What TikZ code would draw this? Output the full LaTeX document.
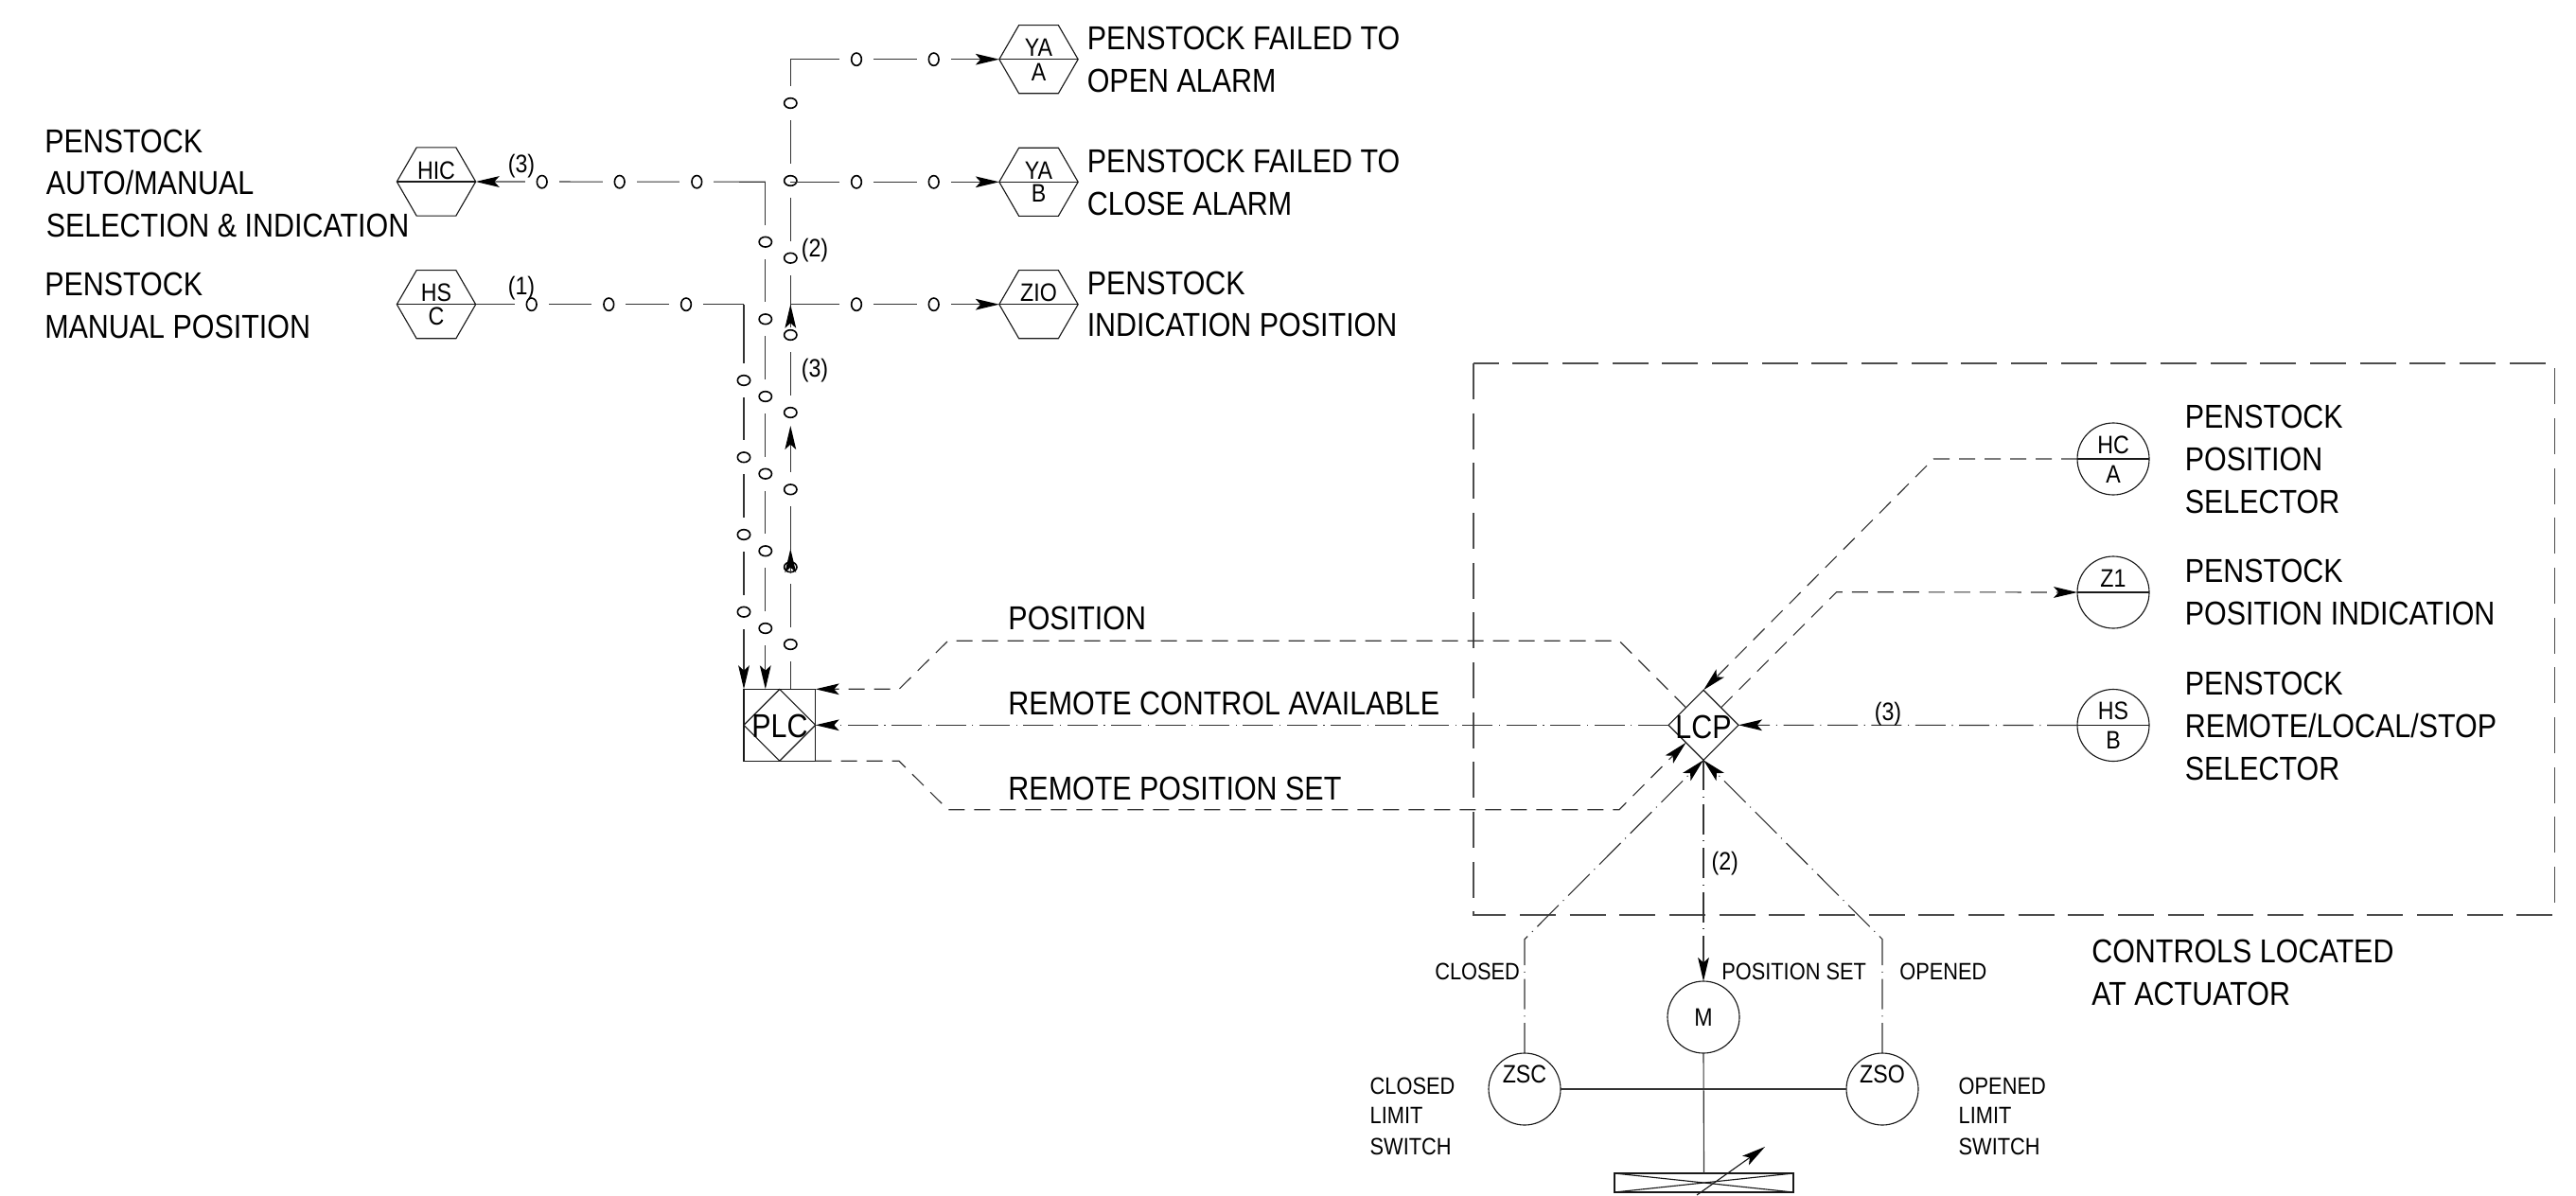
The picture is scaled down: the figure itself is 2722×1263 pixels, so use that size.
\documentclass[tikz,border=0pt]{standalone}
\usepackage{fontspec}
\setmainfont[FakeStretch=0.87]{Liberation Sans}
\usetikzlibrary{arrows.meta,shapes.geometric}
\tikzset{
  wire/.style={line width=0.85pt,draw=black!80,line join=miter},
  thinline/.style={line width=0.85pt,draw=black!90},
  dashp/.style={wire,dash pattern=on 12.75pt off 7.5pt},
  dashdotp/.style={wire,dash pattern=on 24pt off 5pt on 0.8pt off 5pt},
  encl/.style={line width=0.8pt,draw=black!70,dash pattern=on 28.5pt off 11pt},
  arr/.style={-{Stealth[length=18.75pt,width=8.8pt,inset=4pt,color=black]}},
  hexa/.style={regular polygon,regular polygon sides=6,minimum size=62.5pt,inner sep=0pt,outer sep=0pt,thinline,draw},
  inst/.style={circle,minimum size=57pt,inner sep=0pt,outer sep=0pt,thinline,draw},
  dia/.style={diamond,minimum width=#1,minimum height=#1,aspect=1,inner sep=0pt,outer sep=0pt,thinline,draw},
  gaph/.style={rectangle,fill=white,inner sep=0pt,outer sep=0pt,minimum width=27pt,minimum height=12pt,
    path picture={\draw[line width=1.2pt] (path picture bounding box.center) ellipse (4pt and 5pt);}},
  gapv/.style={rectangle,fill=white,inner sep=0pt,outer sep=0pt,minimum width=12pt,minimum height=27pt,
    path picture={\draw[line width=1.2pt] (path picture bounding box.center) ellipse (5pt and 4pt);}},
  big/.style={inner sep=0pt,font=\fontsize{26.25pt}{30pt}\selectfont,anchor=base west},
  bigc/.style={inner sep=0pt,font=\fontsize{26.25pt}{30pt}\selectfont,anchor=base},
  med/.style={inner sep=0pt,font=\fontsize{18.8pt}{24pt}\selectfont,anchor=base west},
  sml/.style={inner sep=0pt,font=\fontsize{20pt}{24pt}\selectfont,anchor=base},
}
\begin{document}
\begin{tikzpicture}[x=0.75pt,y=-0.75pt]
\useasboundingbox (0,0) rectangle (2722,1263);

% --- instruments
\node[hexa] (yaa) at (1097.5,62.7) {};
\node[hexa] (yab) at (1097.5,192.3) {};
\node[hexa] (zio) at (1097.5,321.7) {};
\node[hexa] (hic) at (461,192) {};
\node[hexa] (hsc) at (461,321.7) {};
\node[inst] (hca) at (2233,485) {};
\node[inst] (zi) at (2233,626) {};
\node[inst] (hsb) at (2233,766.5) {};
\node[inst] (m) at (1800,1075) {};
\node[inst] (zsc) at (1611,1151) {};
\node[inst] (zso) at (1989,1151) {};
\node[rectangle,thinline,draw,minimum width=56.8pt,minimum height=57pt,inner sep=0pt,outer sep=0pt] (plcbox) at (823.8,766.3) {};
\node[dia=56.8pt] (plc) at (823.8,766.3) {};
\node[dia=55.5pt] (lcp) at (1800,766.3) {};
\node[rectangle,thinline,draw,minimum width=141.75pt,minimum height=15pt,inner sep=0pt,outer sep=0pt] (valve) at (1800.5,1250) {};

\foreach \n in {yaa,yab,zio,hic,hsc,hca,zi,hsb} \draw[thinline] (\n.west) -- (\n.east);
\draw[thinline] (valve.north west) -- (valve.south east);
\draw[thinline] (valve.south west) -- (valve.north east);

% --- enclosure
\coordinate (ea) at (1557,384);
\coordinate (eb) at (2699,967);
\draw[encl] (ea) rectangle (eb);

% --- junction coordinates
\coordinate (c3top) at (835.3,62.7);
\coordinate (c3mid) at (835.3,192.3);
\coordinate (c3low) at (835.3,321.7);
\coordinate (c2cor) at (808.8,192.2);
\coordinate (c1cor) at (786,321.7);

% --- digital wires (vertical runs, with their gaps)
\draw[wire] (plcbox.north -| c3top) -- (c3top);
\draw[wire,arr] (c2cor) -- (plcbox.north -| c2cor);
\draw[wire,arr] (c1cor) -- (plcbox.north -| c1cor);
\draw[wire,arr] (c2cor) -- (hic.east);
\draw[wire] (hsc.east) -- (c1cor);
\foreach \y [count=\i] in {109,191,272.7,354,436,517.3,599.3,681} \node[gapv] (va\i) at (835.3,\y) {};
\foreach \y [count=\i] in {255.7,337.3,419,500.7,582.3,664} \node[gapv] (vb\i) at (808.8,\y) {};
\foreach \y [count=\i] in {402,483.3,565,646.7} \node[gapv] (vc\i) at (786,\y) {};
\foreach \x [count=\i] in {572.7,654.7,736.3} \node[gaph] (ha\i) at (\x,192.2) {};
\foreach \x [count=\i] in {561.7,643.3,725} \node[gaph] (hb\i) at (\x,321.7) {};
\draw[wire,arr] (c3mid) -- (yab.west);
\draw[wire,arr] (c3low) -- (zio.west);
\draw[wire,arr] (c3top) -- (yaa.west);
\foreach \x [count=\i] in {905,986.7} {
  \node[gaph] (hc\i) at (\x,62.7) {};
  \node[gaph] (hd\i) at (\x,192.3) {};
  \node[gaph] (he\i) at (\x,321.7) {};
}
\coordinate (u1a) at (835.3,346); \coordinate (u2a) at (835.3,498); \coordinate (u3a) at (835.3,606);
\coordinate (u1b) at (835.3,321.7); \coordinate (u2b) at (835.3,450); \coordinate (u3b) at (835.3,580);
\draw[wire,arr] (u1a) -- (u1b);
\draw[wire,arr] (u2a) -- (u2b);
\draw[wire,arr] (u3a) -- (u3b);

% --- PLC <-> LCP
\coordinate (p1) at (950,728.3); \coordinate (p2) at (1001.7,677.3);
\coordinate (p3) at (1711,677.3); \coordinate (p4) at (1781.5,747.8);
\draw[dashp,arr] (p4) -- (p3) -- (p2) -- (p1) -- (plcbox.north east);
\draw[dashdotp,arr] (lcp.west) -- (plcbox.east);
\coordinate (r1) at (950,804.3); \coordinate (r2) at (1001.7,855.7);
\coordinate (r3) at (1711,855.7); \coordinate (r4) at (1781.5,784.8);
\draw[dashp,arr] (plcbox.south east) -- (r1) -- (r2) -- (r3) -- (r4);

% --- LCP field connections
\coordinate (h1) at (2043,485);
\draw[dashp,arr] (hca.west) -- (h1) -- (lcp.north);
\coordinate (z0) at (1818.5,747.8); \coordinate (z1c) at (1940.7,625.7);
\draw[dashp,arr] (z0) -- (z1c) -- (zi.west);
\draw[dashdotp,arr] (hsb.west) -- (lcp.east);
\draw[dashdotp,arr] (lcp.south) -- (m.north);
\coordinate (sc) at (1611,992.7); \coordinate (so) at (1989,992.7);
\draw[dashdotp,arr] (zsc.north) -- (sc) -- (lcp.south);
\draw[dashdotp,arr] (zso.north) -- (so) -- (lcp.south);

% --- actuator
\draw[wire] (zsc.east) -- (zso.west);
\draw[wire] (m.south) -- (valve.north);
\coordinate (va) at (1793,1263); \coordinate (vb) at (1865,1212);
\draw[thinline,arr] (va) -- (vb);

% --- instrument texts
\node[sml] (t01) at (1097.5,59.7) {YA};
\node[sml] (t02) at (1097.5,85) {A};
\node[sml] (t03) at (1097.5,189.7) {YA};
\node[sml] (t04) at (1097.5,213.7) {B};
\node[sml] (t05) at (1097.5,318) {ZIO};
\node[sml] (t06) at (461,189.7) {HIC};
\node[sml] (t07) at (461,318) {HS};
\node[sml] (t08) at (461,343) {C};
\node[sml] (t09) at (2233,479) {HC};
\node[sml] (t10) at (2233,510.7) {A};
\node[sml] (t11) at (2233,620) {Z1};
\node[sml] (t12) at (2233,760.7) {HS};
\node[sml] (t13) at (2233,791.7) {B};
\node[sml] (t14) at (1800,1084) {M};
\node[sml] (t15) at (1611,1144) {ZSC};
\node[sml] (t16) at (1989,1144) {ZSO};
\node[bigc] (t17) at (824,779.5) {PLC};
\node[bigc] (t18) at (1800,780.5) {LCP};

% --- cable counts
\node[sml] (n1) at (551,182) {(3)};
\node[sml] (n2) at (551,311) {(1)};
\node[sml] (n3) at (861,271.3) {(2)};
\node[sml] (n4) at (861,398.7) {(3)};
\node[sml] (n5) at (1995,761) {(3)};
\node[sml] (n6) at (1822.7,919) {(2)};

% --- labels
\node[big] (l01) at (47,161.5) {PENSTOCK};
\node[big] (l02) at (48.6,205.5) {AUTO/MANUAL};
\node[big] (l03) at (48.6,250.5) {SELECTION \& INDICATION};
\node[big] (l04) at (47,312.8) {PENSTOCK};
\node[big] (l05) at (47,357.5) {MANUAL POSITION};
\node[big] (l06) at (1148.5,52.5) {PENSTOCK FAILED TO};
\node[big] (l07) at (1148.5,97.5) {OPEN ALARM};
\node[big] (l08) at (1148.5,182.5) {PENSTOCK FAILED TO};
\node[big] (l09) at (1148.5,227.5) {CLOSE ALARM};
\node[big] (l10) at (1148.5,311.5) {PENSTOCK};
\node[big] (l11) at (1148.5,355.5) {INDICATION POSITION};
\node[big] (l12) at (2308.5,452.5) {PENSTOCK};
\node[big] (l13) at (2308.5,497.5) {POSITION};
\node[big] (l14) at (2308.5,542.5) {SELECTOR};
\node[big] (l15) at (2308.5,615.8) {PENSTOCK};
\node[big] (l16) at (2308.5,660.5) {POSITION INDICATION};
\node[big] (l17) at (2308.5,734.2) {PENSTOCK};
\node[big] (l18) at (2308.5,779.2) {REMOTE/LOCAL/STOP};
\node[big] (l19) at (2308.5,824.2) {SELECTOR};
\node[big] (l20) at (1065.2,665.5) {POSITION};
\node[big] (l21) at (1065.2,755.5) {REMOTE CONTROL AVAILABLE};
\node[big] (l22) at (1065.2,845.5) {REMOTE POSITION SET};
\node[big] (l23) at (2210,1017.5) {CONTROLS LOCATED};
\node[big] (l24) at (2210,1062.5) {AT ACTUATOR};
\node[med] (l25) at (1516,1035) {CLOSED};
\node[med] (l26) at (1819,1035) {POSITION SET};
\node[med] (l27) at (2007,1035) {OPENED};
\node[med] (l28) at (1447.4,1156) {CLOSED};
\node[med] (l29) at (1447.4,1187.5) {LIMIT};
\node[med] (l30) at (1447.4,1220) {SWITCH};
\node[med] (l31) at (2069.4,1156) {OPENED};
\node[med] (l32) at (2069.4,1187.5) {LIMIT};
\node[med] (l33) at (2069.4,1220) {SWITCH};
\end{tikzpicture}
\end{document}
